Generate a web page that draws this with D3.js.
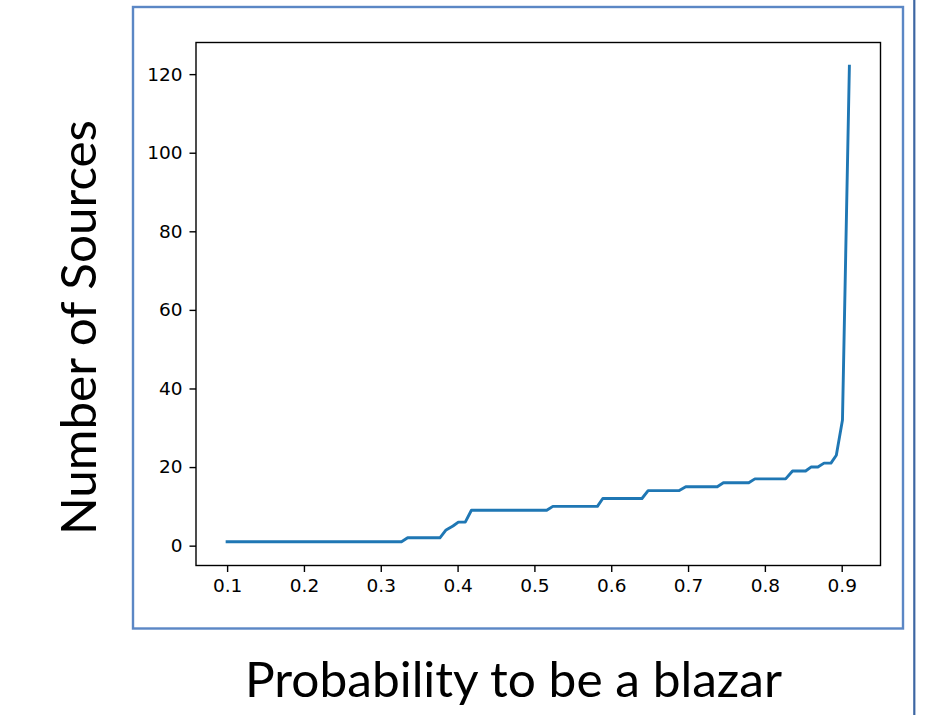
<!DOCTYPE html>
<html lang="en">
<head>
  <meta charset="UTF-8">
  <title>Number of Sources vs Probability</title>
  <script src="https://cdn.jsdelivr.net/npm/d3@7"></script>
  <style>
    body { margin: 0; background: white; }
    svg { display: block; }
    .tick text { font-family: "DejaVu Sans", sans-serif; font-size: 18.5px; fill: #000; }
    .tick line { stroke: #000; stroke-width: 1.4px; }
    .big-label { font-family: Lato, "Open Sans", sans-serif; font-size: 48px; fill: #000; }
  </style>
</head>
<body>
  <div id="chart"></div>
  <script>
    // vertices of the curve
    const probs = [0.100, 0.327, 0.335, 0.377, 0.385, 0.394, 0.401, 0.410, 0.418,
      0.516, 0.524, 0.582, 0.589, 0.640, 0.648, 0.688, 0.697, 0.738, 0.746,
      0.779, 0.787, 0.827, 0.836, 0.853, 0.860, 0.869, 0.877, 0.886, 0.893,
      0.901, 0.910]
    const counts = [1, 1, 2, 2, 4, 5, 6, 6, 9,
      9, 10, 10, 12, 12, 14, 14, 15, 15, 16,
      16, 17, 17, 19, 19, 20, 20, 21, 21, 23,
      32, 122]
    const xTicks = [0.1, 0.2, 0.3, 0.4, 0.5, 0.6, 0.7, 0.8, 0.9]
    const yTicks = [0, 20, 40, 60, 80, 100, 120]

    const width = 934
    const height = 715
    const frame = { left: 196, top: 42.5, right: 880.5, bottom: 565.5 }

    const svg = d3.select("#chart")
      .append("svg")
      .attr("width", width)
      .attr("height", height)

    // slide box + line on the right
    svg.append("rect")
      .attr("x", 133).attr("y", 7)
      .attr("width", 903 - 133).attr("height", 628.5 - 7)
      .attr("fill", "none")
      .attr("stroke", "#5b87c5")
      .attr("stroke-width", 2.4)

    svg.append("line")
      .attr("x1", 914.3).attr("x2", 914.3)
      .attr("y1", 0).attr("y2", height)
      .attr("stroke", "#3d66a3")
      .attr("stroke-width", 2.2)

    // matplotlib style 5% margins
    const xMin = d3.min(probs), xMax = d3.max(probs)
    const yMin = d3.min(counts), yMax = d3.max(counts)
    const xPad = (xMax - xMin) * 0.05
    const yPad = (yMax - yMin) * 0.05

    const xScale = d3.scaleLinear()
      .domain([xMin - xPad, xMax + xPad])
      .range([frame.left, frame.right])

    const yScale = d3.scaleLinear()
      .domain([yMin - yPad, yMax + yPad])
      .range([frame.bottom, frame.top])

    const xAxis = d3.axisBottom(xScale)
      .tickValues(xTicks)
      .tickFormat(d3.format(".1f"))
      .tickSizeOuter(0)
      .tickSize(6.5)
      .tickPadding(7)

    const yAxis = d3.axisLeft(yScale)
      .tickValues(yTicks)
      .tickFormat(d3.format("d"))
      .tickSizeOuter(0)
      .tickSize(6.5)
      .tickPadding(7)

    svg.append("g")
      .attr("transform", `translate(0, ${frame.bottom})`)
      .call(xAxis)
      .call(g => g.select(".domain").remove())

    svg.append("g")
      .attr("transform", `translate(${frame.left}, 0)`)
      .call(yAxis)
      .call(g => g.select(".domain").remove())

    const line = d3.line()
      .x((d, i) => xScale(probs[i]))
      .y(d => yScale(d))

    svg.append("path")
      .datum(counts)
      .attr("d", line)
      .attr("fill", "none")
      .attr("stroke", "#1f77b4")
      .attr("stroke-width", 2.9)
      .attr("stroke-linejoin", "round")
      .attr("stroke-linecap", "square")

    svg.append("rect")
      .attr("x", frame.left).attr("y", frame.top)
      .attr("width", frame.right - frame.left)
      .attr("height", frame.bottom - frame.top)
      .attr("fill", "none")
      .attr("stroke", "#000")
      .attr("stroke-width", 1.4)

    svg.append("text")
      .attr("class", "big-label")
      .attr("transform", "translate(96, 327.5) rotate(-90)")
      .attr("text-anchor", "middle")
      .attr("textLength", 415)
      .attr("lengthAdjust", "spacingAndGlyphs")
      .text("Number of Sources")

    svg.append("text")
      .attr("class", "big-label")
      .attr("x", 513.5)
      .attr("y", 697)
      .attr("text-anchor", "middle")
      .attr("textLength", 537)
      .attr("lengthAdjust", "spacingAndGlyphs")
      .text("Probability to be a blazar")
  </script>
</body>
</html>
